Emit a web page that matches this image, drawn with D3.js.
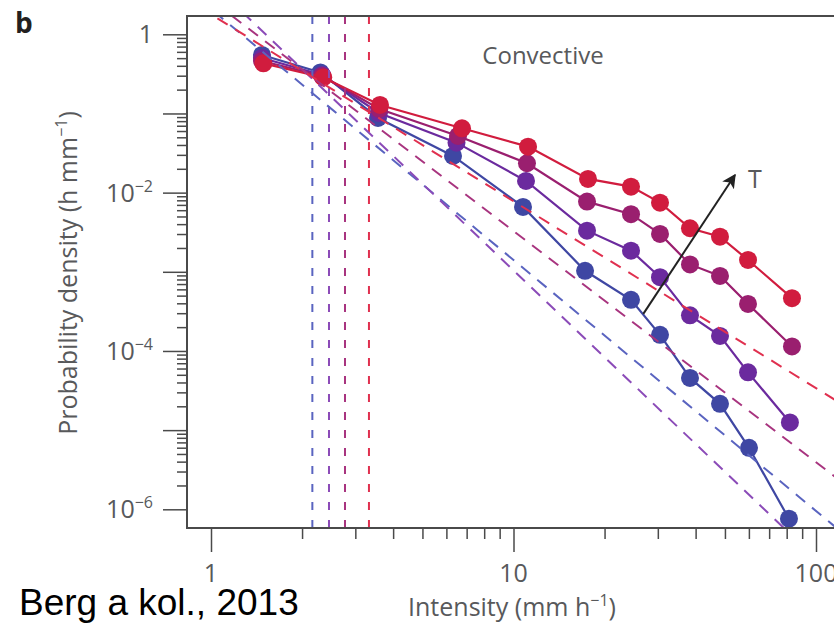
<!DOCTYPE html>
<html>
<head>
<meta charset="utf-8">
<script src="https://cdn.jsdelivr.net/npm/d3@7"></script>
<style>
  html, body { margin: 0; padding: 0; background: #fff; }
  svg { display: block; }
</style>
</head>
<body>
<svg id="chart" width="834" height="625"></svg>
<script>
// ---------------- data ----------------
const seriesNames = ["coldest", "cool", "warm", "warmest"];
const seriesColors = ["#3f47a3", "#6b2a9e", "#9a1f6f", "#d11c3e"];
const dashColors  = ["#5a64c0", "#8b4bb8", "#a8347f", "#e0304f"];

const xCold    = [1.474, 2.30, 3.565, 6.31, 10.75, 17.24, 24.46, 30.5, 38.32, 48.15, 60.06, 81.4];
const xCool    = [1.474, 2.33, 3.59, 6.48, 11.0, 17.5, 24.46, 30.5, 38.32, 48.15, 59.6, 82.0];
const xWarm    = [1.474, 2.33, 3.60, 6.554, 11.08, 17.5, 24.46, 30.5, 38.32, 48.15, 59.6, 83.3];
const xWarmest = [1.49, 2.35, 3.62, 6.757, 11.17, 17.63, 24.46, 30.5, 38.32, 48.15, 59.61, 83.3];

const yCold    = [0.548, 0.33, 0.0877, 0.0291, 0.0066, 1.03e-3, 4.42e-4, 1.60e-4, 4.57e-5, 2.15e-5, 5.98e-6, 7.6e-7];
const yCool    = [0.502, 0.306, 0.1015, 0.0428, 0.01405, 3.31e-3, 1.85e-3, 8.55e-4, 2.82e-4, 1.55e-4, 5.37e-5, 1.25e-5];
const yWarm    = [0.46, 0.2975, 0.114, 0.052, 0.0235, 7.7e-3, 5.34e-3, 3.01e-3, 1.24e-3, 8.87e-4, 3.93e-4, 1.14e-4];
const yWarmest = [0.43, 0.285, 0.128, 0.065, 0.0381, 0.0149, 0.0119, 7.47e-3, 3.55e-3, 2.78e-3, 1.41e-3, 4.64e-4];

// power-law fits  y = amp * x^(-exp)
const fitExponent  = [3.17, 3.64, 2.92, 2.36];
const fitAmplitude = [2.085, 4.54, 2.72, 1.783];
// threshold intensities (vertical dashed lines)
const thresholds   = [2.163, 2.455, 2.773, 3.328];

const xTickLabels = ["1", "10", "100"];
const xTickValues = [1, 10, 100];
const yTickLabels = [["1", ""], ["10", "\u22122"], ["10", "\u22124"], ["10", "\u22126"]];
const yTickValues = [1, 1e-2, 1e-4, 1e-6];

// arrow annotation (data coords)
const arrowFrom = [26.86, 2.94e-4];
const arrowTo   = [53.98, 0.01673];

// ---------------- layout ----------------
const svg = d3.select("#chart");
const L = 187, T = 16, B = 528, R = 842;
const axisColor = "#4a4a4a";
const textColor = "#58595b";
const font = "'Open Sans', 'Noto Sans', sans-serif";

const x = d3.scaleLog().domain([1, 100]).range([211, 816]);
const y = d3.scaleLog().domain([1, 1e-6]).range([34.3, 509.3]);

const xs = [xCold, xCool, xWarm, xWarmest];
const ys = [yCold, yCool, yWarm, yWarmest];
const series = seriesNames.map((n, i) => ({
  name: n, color: seriesColors[i], dash: dashColors[i],
  pts: xs[i].map((v, j) => [v, ys[i][j]]),
  exp: fitExponent[i], amp: fitAmplitude[i], thr: thresholds[i]
}));

svg.append("defs").append("clipPath").attr("id", "clip")
  .append("rect").attr("x", L).attr("y", T).attr("width", R - L).attr("height", B - T);

// ---------- axes ticks ----------
const yMinor = [], yMajor = [];
for (let k = -6; k <= 0; k++) {
  yMajor.push(Math.pow(10, k));
  if (k < 0) for (let m = 2; m <= 9; m++) yMinor.push(m * Math.pow(10, k));
}
const xMinor = [], xMajor = [1, 10, 100];
for (let k = 0; k < 2; k++) for (let m = 2; m <= 9; m++) xMinor.push(m * Math.pow(10, k));

function styleAxis(g) {
  g.select(".domain").remove();
  g.selectAll(".tick line").attr("stroke", axisColor).attr("stroke-width", 1.5);
  g.selectAll(".tick text").remove();
}

svg.append("g").attr("transform", `translate(${L},0)`)
  .call(d3.axisLeft(y).tickValues(yMinor).tickSize(10).tickFormat(""))
  .call(styleAxis);
svg.append("g").attr("transform", `translate(${L},0)`)
  .call(d3.axisLeft(y).tickValues(yMajor).tickSize(24).tickFormat(""))
  .call(styleAxis);
svg.append("g").attr("transform", `translate(0,${B})`)
  .call(d3.axisBottom(x).tickValues(xMinor).tickSize(11).tickFormat(""))
  .call(styleAxis);
svg.append("g").attr("transform", `translate(0,${B})`)
  .call(d3.axisBottom(x).tickValues(xMajor).tickSize(24).tickFormat(""))
  .call(styleAxis);

// tick labels
const yl = svg.append("g").attr("font-family", font).attr("fill", textColor);
yTickValues.forEach((v, i) => {
  const t = yl.append("text").attr("x", 153).attr("y", y(v) + 9)
    .attr("text-anchor", "end").attr("font-size", 25);
  t.append("tspan").text(yTickLabels[i][0]);
  if (yTickLabels[i][1]) t.append("tspan").attr("font-size", 16).attr("dy", -10).text(yTickLabels[i][1]);
});
const xl = svg.append("g").attr("font-family", font).attr("fill", textColor);
xTickValues.forEach((v, i) => {
  xl.append("text").attr("x", x(v)).attr("y", 582).attr("text-anchor", "middle")
    .attr("font-size", 25).text(xTickLabels[i]);
});

// axis titles
const xt = svg.append("text").attr("x", 512).attr("y", 616).attr("text-anchor", "middle")
  .attr("font-family", font).attr("font-size", 25).attr("fill", textColor);
xt.append("tspan").text("Intensity (mm h");
xt.append("tspan").attr("font-size", 16).attr("dy", -10).text("\u22121");
xt.append("tspan").attr("dy", 10).text(")");

const yt = svg.append("text").attr("transform", "translate(77,273) rotate(-90)")
  .attr("text-anchor", "middle").attr("font-family", font).attr("font-size", 25).attr("fill", textColor);
yt.append("tspan").text("Probability density (h mm");
yt.append("tspan").attr("font-size", 16).attr("dy", -10).text("\u22121");
yt.append("tspan").attr("dy", 10).text(")");

// ---------- plot content ----------
const plot = svg.append("g").attr("clip-path", "url(#clip)");

const line = d3.line().x(d => x(d[0])).y(d => y(d[1]));

series.forEach(s => {
  plot.append("path").datum(s.pts).attr("d", line)
    .attr("fill", "none").attr("stroke", s.color).attr("stroke-width", 2.2);
  plot.selectAll(null).data(s.pts).enter().append("circle")
    .attr("cx", d => x(d[0])).attr("cy", d => y(d[1])).attr("r", 9)
    .attr("fill", s.color);
});

// vertical threshold lines
series.forEach(s => {
  plot.append("line").attr("x1", x(s.thr)).attr("x2", x(s.thr))
    .attr("y1", T).attr("y2", B)
    .attr("stroke", s.dash).attr("stroke-width", 2).attr("stroke-dasharray", "8,10");
});

// power-law fit lines
series.forEach(s => {
  const fx = [0.8, 130];
  const pts = fx.map(v => [v, s.amp * Math.pow(v, -s.exp)]);
  plot.append("path").datum(pts).attr("d", line)
    .attr("fill", "none").attr("stroke", s.dash).attr("stroke-width", 2)
    .attr("stroke-dasharray", "12,9");
});

// arrow
svg.select("defs").append("marker").attr("id", "ah")
  .attr("viewBox", "0 0 10 10").attr("refX", 9).attr("refY", 5)
  .attr("markerWidth", 7).attr("markerHeight", 7).attr("orient", "auto")
  .attr("markerUnits", "strokeWidth")
  .append("path").attr("d", "M0,0 L10,5 L0,10 L2.5,5 Z").attr("fill", "#222");
svg.append("line")
  .attr("x1", x(arrowFrom[0])).attr("y1", y(arrowFrom[1]))
  .attr("x2", x(arrowTo[0])).attr("y2", y(arrowTo[1]))
  .attr("stroke", "#222").attr("stroke-width", 2).attr("marker-end", "url(#ah)");
svg.append("text").attr("x", x(arrowTo[0]) + 20).attr("y", y(arrowTo[1]) + 13)
  .attr("text-anchor", "middle").attr("font-family", font).attr("font-size", 25)
  .attr("fill", textColor).text("T");

// frame
svg.append("path")
  .attr("d", `M${R},${T} L${L},${T} L${L},${B} L${R},${B}`)
  .attr("fill", "none").attr("stroke", axisColor).attr("stroke-width", 2);

// texts
svg.append("text").attr("x", 543).attr("y", 64).attr("text-anchor", "middle")
  .attr("font-family", font).attr("font-size", 24).attr("fill", textColor).text("Convective");
svg.append("text").attr("x", 15).attr("y", 33)
  .attr("font-family", font).attr("font-weight", "bold").attr("font-size", 28)
  .attr("fill", "#231f20").text("b");
svg.append("text").attr("x", 19).attr("y", 615)
  .attr("font-family", "'Liberation Sans', Arial, sans-serif").attr("font-size", 37)
  .attr("fill", "#000").text("Berg a kol., 2013");
</script>
</body>
</html>
